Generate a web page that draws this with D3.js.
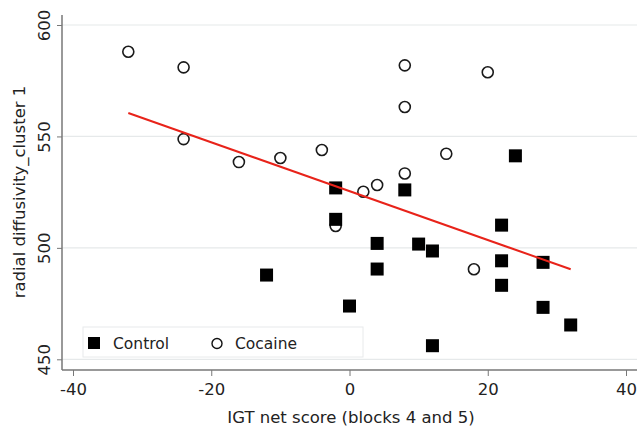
<!DOCTYPE html>
<html>
<head>
<meta charset="utf-8">
<script src="https://cdn.jsdelivr.net/npm/d3@7"></script>
<style>
  body { margin: 0; background: #fff; }
  text { font-family: "DejaVu Sans", Verdana, sans-serif; fill: #222; }
</style>
</head>
<body>
<div id="chart"></div>
<script>
// Control group (filled squares)
const controlX = [-12, -2, -2, 0, 4, 4, 8, 10, 12, 12, 24, 22, 22, 22, 28, 28, 32];
const controlY = [487.8, 526.9, 512.8, 473.9, 502, 490.5, 526, 501.7, 498.6, 456.1, 541.3, 510.2, 494.2, 483.2, 493.5, 473.3, 465.4];

// Cocaine group (open circles)
const cocaineX = [-32, -24, -24, -16, -10, -4, 2, 4, 8, 8, 8, 14, 20, -2, 18];
const cocaineY = [588, 581, 548.8, 538.5, 540.3, 543.9, 525.2, 528.2, 581.9, 563.2, 533.4, 542.2, 578.8, 509.8, 490.4];

// fitted line endpoints
const fitX = [-32, 32];
const fitY = [560.5, 490.4];

const xTicks = [-40, -20, 0, 20, 40];
const yTicks = [450, 500, 550, 600];

const width = 637, height = 427;
const margin = {top: 15, right: 0, bottom: 57, left: 62};
const fontSize = '16.5px';

const svg = d3.select('#chart').append('svg')
  .attr('width', width)
  .attr('height', height);

const xScale = d3.scaleLinear().domain([-40, 40]).range([73, 626]);
const yScale = d3.scaleLinear().domain([450, 600]).range([359.3, 25]);

const plotBottom = height - margin.bottom; // 370

// gridlines
svg.append('g')
  .selectAll('line')
  .data(yTicks)
  .join('line')
  .attr('x1', margin.left)
  .attr('x2', width)
  .attr('y1', d => yScale(d))
  .attr('y2', d => yScale(d))
  .attr('stroke', '#e6e9ea')
  .attr('stroke-width', 1.2);

// y axis
const yAxis = svg.append('g')
  .attr('transform', `translate(${margin.left},0)`)
  .call(d3.axisLeft(yScale).tickValues(yTicks).tickSize(5).tickFormat(d3.format('d')));
yAxis.select('.domain')
  .attr('d', `M0,${margin.top}V${plotBottom}`)
  .attr('stroke', '#777').attr('stroke-width', 1.5);
yAxis.selectAll('.tick line').attr('stroke', '#777');
yAxis.selectAll('.tick text')
  .attr('transform', 'rotate(-90)')
  .attr('x', 0)
  .attr('y', -12)
  .attr('dy', 0)
  .attr('text-anchor', 'middle')
  .style('font-size', fontSize)
  .style('font-family', '"DejaVu Sans", sans-serif')
  .attr('fill', '#222');

// x axis
const xAxis = svg.append('g')
  .attr('transform', `translate(0,${plotBottom})`)
  .call(d3.axisBottom(xScale).tickValues(xTicks).tickSize(6).tickFormat(d3.format('d')));
xAxis.select('.domain')
  .attr('d', `M${margin.left},0H${width}`)
  .attr('stroke', '#777').attr('stroke-width', 1.5);
xAxis.selectAll('.tick line').attr('stroke', '#777');
xAxis.selectAll('.tick text')
  .attr('y', 13)
  .attr('dy', '0.71em')
  .style('font-size', fontSize)
  .style('font-family', '"DejaVu Sans", sans-serif')
  .attr('fill', '#222')
  .text(d => d < 0 ? '-' + Math.abs(d) : d);

// axis titles
svg.append('text')
  .attr('x', 351)
  .attr('y', 423)
  .attr('text-anchor', 'middle')
  .style('font-size', fontSize)
  .text('IGT net score (blocks 4 and 5)');

svg.append('text')
  .attr('transform', `translate(25,${192}) rotate(-90)`)
  .attr('text-anchor', 'middle')
  .style('font-size', fontSize)
  .text('radial diffusivity_cluster 1');

// legend box
const legend = svg.append('g');
legend.append('rect')
  .attr('x', 83).attr('y', 327)
  .attr('width', 280).attr('height', 30)
  .attr('fill', '#fff')
  .attr('stroke', '#e8eaeb')
  .attr('stroke-width', 1);
legend.append('rect')
  .attr('x', 88).attr('y', 337)
  .attr('width', 12).attr('height', 12)
  .attr('fill', '#000');
legend.append('text')
  .attr('x', 113).attr('y', 349)
  .style('font-size', '15.5px')
  .text('Control');
legend.append('circle')
  .attr('cx', 217).attr('cy', 343.5)
  .attr('r', 5)
  .attr('fill', '#fff')
  .attr('stroke', '#111')
  .attr('stroke-width', 1.4);
legend.append('text')
  .attr('x', 235).attr('y', 349)
  .style('font-size', '15.5px')
  .text('Cocaine');

// cocaine circles
const cocaine = cocaineX.map((x, i) => ({x: x, y: cocaineY[i]}));
svg.append('g')
  .selectAll('circle')
  .data(cocaine)
  .join('circle')
  .attr('cx', d => xScale(d.x))
  .attr('cy', d => yScale(d.y))
  .attr('r', 5.5)
  .attr('fill', 'none')
  .attr('stroke', '#1a1a1a')
  .attr('stroke-width', 1.6);

// control squares
const control = controlX.map((x, i) => ({x: x, y: controlY[i]}));
const sq = 13;
svg.append('g')
  .selectAll('rect')
  .data(control)
  .join('rect')
  .attr('x', d => xScale(d.x) - sq / 2)
  .attr('y', d => yScale(d.y) - sq / 2)
  .attr('width', sq)
  .attr('height', sq)
  .attr('fill', '#000');

// fitted line
const fit = fitX.map((x, i) => ({x: x, y: fitY[i]}));
svg.append('path')
  .datum(fit)
  .attr('fill', 'none')
  .attr('stroke', '#e8231a')
  .attr('stroke-width', 2)
  .attr('d', d3.line().x(d => xScale(d.x)).y(d => yScale(d.y)));
</script>
</body>
</html>
